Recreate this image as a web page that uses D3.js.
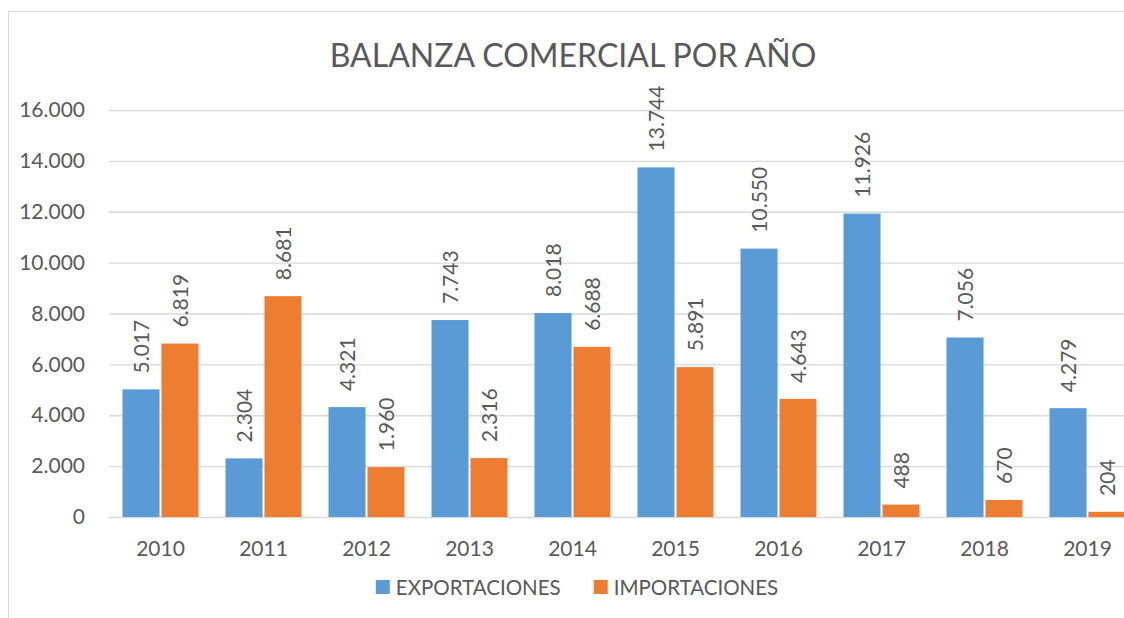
<!DOCTYPE html>
<html>
<head>
<meta charset="utf-8">
<script src="https://cdn.jsdelivr.net/npm/d3@7"></script>
<style>
  html, body { margin: 0; padding: 0; background: #fff; overflow: hidden; }
  text { font-family: Lato, "Liberation Sans", sans-serif; fill: #595959; }
</style>
</head>
<body>
<div id="chart"></div>
<script>
var years = ['2010', '2011', '2012', '2013', '2014', '2015', '2016', '2017', '2018', '2019']
var exportaciones = [5017, 2304, 4321, 7743, 8018, 13744, 10550, 11926, 7056, 4279]
var importaciones = [6819, 8681, 1960, 2316, 6688, 5891, 4643, 488, 670, 204]
var seriesNames = ['EXPORTACIONES', 'IMPORTACIONES']
var yTicks = [0, 2000, 4000, 6000, 8000, 10000, 12000, 14000, 16000]
var titulo = 'BALANZA COMERCIAL POR AÑO'

var color = ['#5B9BD5', '#ED7D31']
var width = 1124, height = 618
var margin = {top: 110, left: 109, right: -15, bottom: 101}
var mainWidth = width - margin.left - margin.right
var mainHeight = height - margin.top - margin.bottom

var es = d3.formatLocale({decimal: ',', thousands: '.', grouping: [3], currency: ['', ' €']})
var fmt = es.format(',d')

var data = years.map(function (y, i) {
  return {year: y, values: [exportaciones[i], importaciones[i]]}
})

var svg = d3.select('#chart').append('svg').attr('width', width).attr('height', height)

// marco
svg.append('rect')
  .attr('x', 8.5).attr('y', 11.5)
  .attr('width', 1300).attr('height', 800)
  .attr('fill', '#fff').attr('stroke', '#D9D9D9').attr('stroke-width', 1)

// titulo
svg.append('text')
  .attr('x', 573).attr('y', 67)
  .attr('text-anchor', 'middle')
  .style('font-size', '32px')
  .text(titulo)

var g = svg.append('g').attr('transform', 'translate(' + margin.left + ',' + margin.top + ')')

// escalas
var y = d3.scaleLinear().domain([0, 16000]).range([mainHeight, 0])
var x0 = d3.scaleBand().domain(years).range([0, mainWidth]).padding(0)
var x1 = d3.scaleBand().domain([0, 1])
  .range([13.5, x0.bandwidth() - 13.5])
  .paddingInner(0.05)

// eje y + grilla
var yAxis = d3.axisLeft(y)
  .tickValues(yTicks)
  .tickSize(-mainWidth)
  .tickPadding(24)
  .tickFormat(fmt)
g.append('g').call(yAxis)
  .call(function (s) { s.select('.domain').remove() })
  .call(function (s) { s.selectAll('.tick line').attr('stroke', '#D9D9D9').attr('stroke-width', 1.3) })
  .call(function (s) {
    s.selectAll('.tick text').attr('fill', '#595959')
      .style('font-size', '21px').style('font-family', 'Lato, sans-serif')
  })

// barras
var grupos = g.selectAll('.grupo').data(data).enter().append('g')
  .attr('class', 'grupo')
  .attr('transform', function (d) { return 'translate(' + x0(d.year) + ',0)' })

grupos.selectAll('rect')
  .data(function (d) { return d.values.map(function (v, i) { return {i: i, v: v} }) })
  .enter().append('rect')
  .attr('x', function (d) { return x1(d.i) })
  .attr('width', x1.bandwidth())
  .attr('y', function (d) { return y(d.v) })
  .attr('height', function (d) { return mainHeight - y(d.v) })
  .attr('fill', function (d) { return color[d.i] })

// etiquetas de datos
grupos.selectAll('.lbl')
  .data(function (d) { return d.values.map(function (v, i) { return {i: i, v: v} }) })
  .enter().append('text')
  .attr('class', 'lbl')
  .attr('transform', function (d) {
    return 'translate(' + (x1(d.i) + x1.bandwidth() / 2) + ',' + (y(d.v) - 16) + ') rotate(-90)'
  })
  .attr('dy', '0.36em')
  .attr('text-anchor', 'start')
  .style('font-size', '21px')
  .text(function (d) { return fmt(d.v) })

// eje x
var xAxis = d3.axisBottom(x0).tickSize(0).tickPadding(24)
g.append('g')
  .attr('transform', 'translate(0,' + mainHeight + ')')
  .call(xAxis)
  .call(function (s) { s.select('.domain').remove() })
  .call(function (s) {
    s.selectAll('.tick text').attr('fill', '#595959')
      .style('font-size', '21px').style('font-family', 'Lato, sans-serif')
  })

// leyenda
var leyenda = svg.append('g')
var xPos = 0
seriesNames.forEach(function (name, i) {
  var it = leyenda.append('g').attr('transform', 'translate(' + xPos + ',0)')
  it.append('rect').attr('x', 0).attr('y', 580).attr('width', 14).attr('height', 14).attr('fill', color[i])
  var t = it.append('text').attr('x', 20).attr('y', 595).style('font-size', '20.5px').text(name)
  xPos += 20 + t.node().getComputedTextLength() + 33
})
var legW = xPos - 33
leyenda.attr('transform', 'translate(' + (577 - legW / 2) + ',0)')
</script>
</body>
</html>
